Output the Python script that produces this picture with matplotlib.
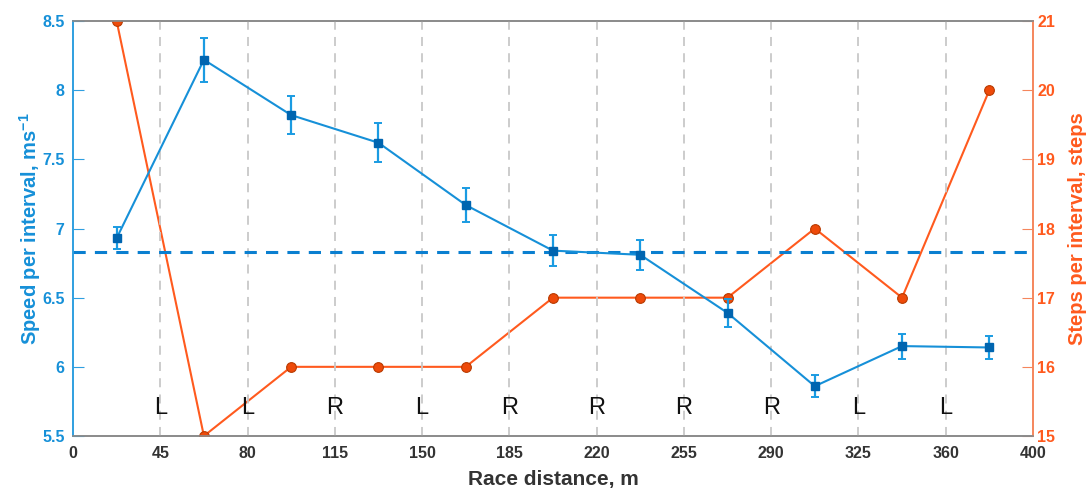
import matplotlib
matplotlib.use("Agg")
import matplotlib.pyplot as plt
import numpy as np

# ---- data ----
tick_labels = ["0", "45", "80", "115", "150", "185", "220", "255", "290", "325", "360", "400"]
foot = ["L", "L", "R", "L", "R", "R", "R", "R", "L", "L"]
speed = [6.93, 8.22, 7.82, 7.62, 7.17, 6.84, 6.81, 6.39, 5.86, 6.15, 6.14]
speed_err = [0.08, 0.16, 0.14, 0.14, 0.12, 0.11, 0.11, 0.10, 0.08, 0.09, 0.08]
steps = [21, 15, 16, 16, 16, 17, 17, 17, 18, 17, 20]
mean_speed = 6.83

plt.rcParams['font.family'] = ['Liberation Sans', 'DejaVu Sans']
plt.rcParams['mathtext.fontset'] = 'custom'
plt.rcParams['mathtext.bf'] = 'Liberation Sans:bold'
plt.rcParams['mathtext.rm'] = 'Liberation Sans'

BLUE_LINE = '#1690d8'
BLUE_MK = '#0065b0'
BLUE_AX = '#2f9fe0'
ORANGE = '#ff5a1e'
ORANGE_MK = '#ee4a0a'
ORANGE_AX = '#f5865c'

fig = plt.figure(figsize=(10.88, 4.90), dpi=100)
ax = fig.add_axes([0.0671, 0.1102, 0.8823, 0.8469])
ax2 = ax.twinx()

n = len(tick_labels)
tick_pos = np.arange(n)
pts = np.arange(len(speed)) + 0.5

# vertical dashed separators
for xp in tick_pos[1:-1]:
    ax.axvline(xp, color='#c8c8c8', ls=(0, (5, 4)), lw=1.3, zorder=0)

# foot letters
for xp, lab in zip(tick_pos[1:-1], foot):
    ax.text(xp, 5.705, lab, ha='center', va='center', fontsize=17,
            color='#111111', zorder=1)

# mean line
ax.axhline(mean_speed, color='#0a7fd0', ls=(0, (4, 3)), lw=2.2, zorder=2)

# speed series
ax.errorbar(pts, speed, yerr=speed_err, color=BLUE_LINE, lw=1.5, ecolor='#1a9be2',
            elinewidth=1.6, capsize=3, capthick=1.4, marker='s', ms=6,
            mfc=BLUE_MK, mec=BLUE_MK, zorder=4)

# steps series
ax2.plot(pts, steps, color=ORANGE, lw=1.5, marker='o', ms=7,
         mfc=ORANGE_MK, mec='#b83a00', mew=0.8, zorder=3)

ax.set_xlim(0, n - 1)
ax.set_ylim(5.5, 8.5)
ax2.set_ylim(15, 21)
ax.set_xticks(tick_pos)
ax.set_xticklabels(tick_labels)
ax.set_yticks([5.5, 6, 6.5, 7, 7.5, 8, 8.5])
ax.set_yticklabels(["5.5", "6", "6.5", "7", "7.5", "8", "8.5"])
ax2.set_yticks(range(15, 22))

ax.tick_params(axis='x', length=0, labelsize=11.5, labelcolor='#333333', pad=7)
for lab in ax.get_xticklabels():
    lab.set_fontweight('bold')
ax.tick_params(axis='y', direction='in', length=8, color=BLUE_AX, labelsize=11.5,
               labelcolor=BLUE_LINE, pad=6)
for lab in ax.get_yticklabels():
    lab.set_fontweight('bold')
ax2.tick_params(axis='y', direction='in', length=8, color=ORANGE_AX, labelsize=11.5,
                labelcolor=ORANGE, pad=3)
for lab in ax2.get_yticklabels():
    lab.set_fontweight('bold')

for a in (ax, ax2):
    a.spines['top'].set_color('#8a8a8a')
    a.spines['bottom'].set_color('#8a8a8a')
    a.spines['left'].set_color(BLUE_AX)
    a.spines['right'].set_color(ORANGE_AX)
    for s in a.spines.values():
        s.set_linewidth(1.2)

ax.set_xlabel("Race distance, m", fontsize=15, fontweight='bold', color='#333333')
ax.xaxis.set_label_coords(0.5, -0.081)
ax.set_ylabel(r"Speed per interval, ms$^{\mathbf{-1}}$", fontsize=14.5, fontweight='bold',
              color=BLUE_LINE)
ax.yaxis.set_label_coords(-0.031, 0.5)
ax2.set_ylabel("Steps per interval, steps", fontsize=14.5, fontweight='bold',
               color=ORANGE, rotation=90)
ax2.yaxis.set_label_coords(1.036, 0.5)

ax.set_zorder(ax2.get_zorder() + 1)
ax.patch.set_visible(False)

fig.savefig("out.png", dpi=100)
